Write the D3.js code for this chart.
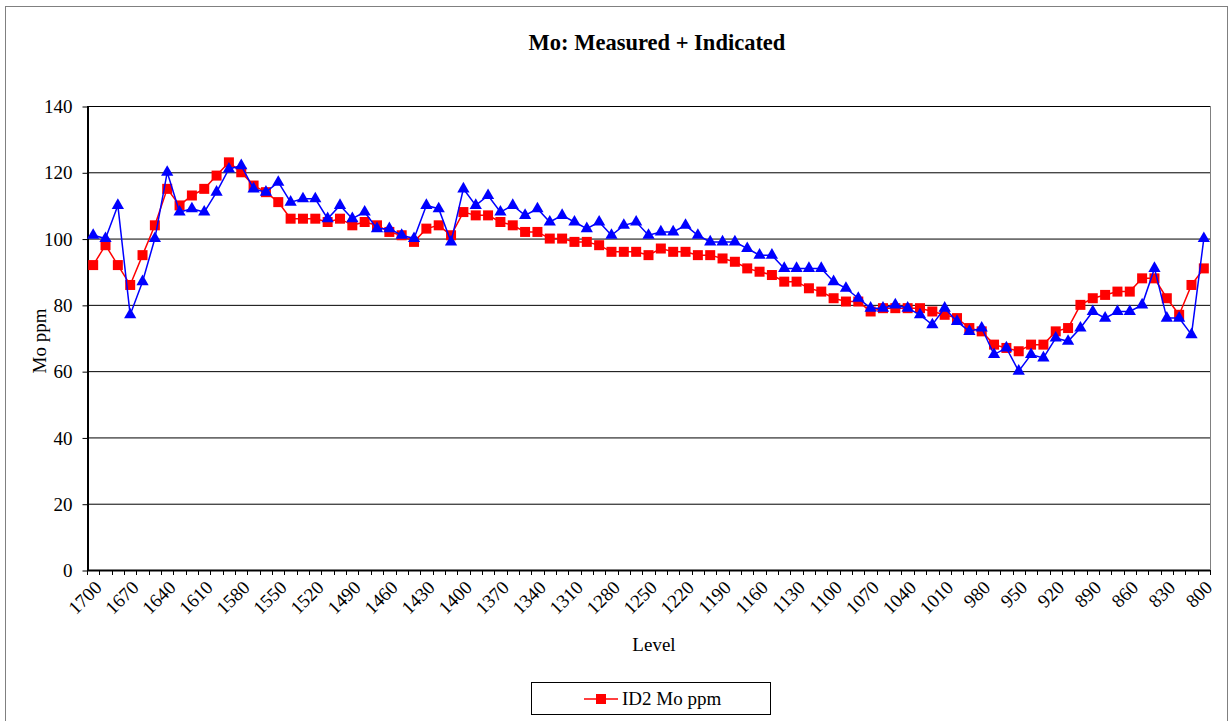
<!DOCTYPE html>
<meta charset="utf-8">
<style>
body { margin: 0; background: #fff; }
svg text { font-family: "Liberation Serif", "Times New Roman", Times, serif; }
.grid line { stroke: #000; stroke-width: 1px; }
.domain { stroke: #000; }
</style>
<body>
<script src="https://d3js.org/d3.v7.min.js"></script>
<script>

// levels from 1700 down to 800, every 10
var levels = [1700,1690,1680,1670,1660,1650,1640,1630,1620,1610,1600,1590,1580,1570,1560,1550,1540,1530,1520,1510,
  1500,1490,1480,1470,1460,1450,1440,1430,1420,1410,1400,1390,1380,1370,1360,1350,1340,1330,1320,1310,
  1300,1290,1280,1270,1260,1250,1240,1230,1220,1210,1200,1190,1180,1170,1160,1150,1140,1130,1120,1110,
  1100,1090,1080,1070,1060,1050,1040,1030,1020,1010,1000,990,980,970,960,950,940,930,920,910,
  900,890,880,870,860,850,840,830,820,810,800];

// ID2 Mo ppm (red squares)
var id2Mo = [92,98,92,86,95,104,115,110,113,115,119,123,120,116,114,111,106,106,106,105,
  106,104,105,104,102,101,99,103,104,101,108,107,107,105,104,102,102,100,100,99,
  99,98,96,96,96,95,97,96,96,95,95,94,93,91,90,89,87,87,85,84,
  82,81,81,78,79,79,79,79,78,77,76,73,72,68,67,66,68,68,72,73,
  80,82,83,84,84,88,88,82,77,86,91];

// second series (blue triangles, not in legend)
var blueMo = [101,100,110,77,87,100,120,108,109,108,114,121,122,115,114,117,111,112,112,106,
  110,106,108,103,103,101,100,110,109,99,115,110,113,108,110,107,109,105,107,105,
  103,105,101,104,105,101,102,102,104,101,99,99,99,97,95,95,91,91,91,91,
  87,85,82,79,79,80,79,77,74,79,75,72,73,65,67,60,65,64,70,69,
  73,78,76,78,78,80,91,76,76,71,100];

var yTicks = [0,20,40,60,80,100,120,140];
var xLabels = levels.filter(function(d, i) { return i % 3 === 0; });

var W = 1230, H = 721;
var plotLeft = 87, plotRight = 1210, plotTop = 106, plotBottom = 570;

var svg = d3.select("body").append("svg")
    .attr("width", W)
    .attr("height", H);

// outer chart border
svg.append("rect")
    .attr("x", 5.5).attr("y", 6.5)
    .attr("width", 1222).attr("height", 720)
    .attr("fill", "#fff")
    .attr("stroke", "#808080");

var x = d3.scaleBand().domain(levels).range([plotLeft, plotRight]).padding(0);
var y = d3.scaleLinear().domain([0, 140]).range([plotBottom, plotTop]);
var cx = function(i) { return x(levels[i]) + x.bandwidth() / 2; };

// gridlines
svg.append("g")
    .attr("class", "grid")
    .selectAll("line")
    .data(yTicks.filter(function(d) { return d > 0; }))
    .join("line")
    .attr("x1", plotLeft).attr("x2", plotRight)
    .attr("y1", function(d) { return y(d) + 0.5; })
    .attr("y2", function(d) { return y(d) + 0.5; });

// plot area right edge
svg.append("line")
    .attr("x1", plotRight + 0.5).attr("x2", plotRight + 0.5)
    .attr("y1", plotTop).attr("y2", plotBottom)
    .attr("stroke", "#808080");

// y axis
var yAxis = svg.append("g")
    .attr("transform", "translate(" + (plotLeft + 0.5) + ",0.5)")
    .call(d3.axisLeft(y).tickValues(yTicks).tickSize(5).tickSizeOuter(0).tickPadding(10));
yAxis.attr("font-family", null).attr("font-size", null);
yAxis.select(".domain").attr("stroke-width", 2);
yAxis.selectAll("text")
    .style("font-size", "19px")
    .attr("fill", "#000");

// x axis: ticks between categories, labels every third category
var xAxisG = svg.append("g");
xAxisG.append("line")
    .attr("x1", plotLeft).attr("x2", plotRight)
    .attr("y1", plotBottom + 0.5).attr("y2", plotBottom + 0.5)
    .attr("stroke", "#000").attr("stroke-width", 2);
var bounds = levels.map(function(d) { return x(d); }).concat([plotRight]);
xAxisG.selectAll(".xt")
    .data(bounds)
    .join("line")
    .attr("class", "xt")
    .attr("x1", function(d) { return Math.round(d) + 0.5; })
    .attr("x2", function(d) { return Math.round(d) + 0.5; })
    .attr("y1", plotBottom).attr("y2", plotBottom + 5)
    .attr("stroke", "#000");
xAxisG.selectAll(".xl")
    .data(xLabels)
    .join("text")
    .attr("class", "xl")
    .attr("transform", function(d) {
      return "translate(" + (x(d) + x.bandwidth() / 2 + 5) + "," + (plotBottom + 14) + ") rotate(-45)";
    })
    .attr("text-anchor", "end")
    .attr("dy", "0.35em")
    .style("font-size", "19px")
    .text(function(d) { return d; });

// axis titles
svg.append("text")
    .attr("x", 654).attr("y", 651)
    .attr("text-anchor", "middle")
    .style("font-size", "19px")
    .text("Level");
svg.append("text")
    .attr("transform", "translate(46," + ((plotTop + plotBottom) / 2 + 3) + ") rotate(-90)")
    .attr("text-anchor", "middle")
    .style("font-size", "19px")
    .text("Mo ppm");

// title
svg.append("text")
    .attr("x", 657).attr("y", 50)
    .attr("text-anchor", "middle")
    .style("font-size", "22.5px")
    .style("font-weight", "bold")
    .text("Mo: Measured + Indicated");

// lines
var line = function(vals) {
  return d3.line()
    .x(function(d, i) { return cx(i); })
    .y(function(d) { return y(d); })(vals);
};

svg.append("path")
    .attr("d", line(id2Mo))
    .attr("fill", "none").attr("stroke", "#ff0000").attr("stroke-width", 1.5);
svg.append("g").selectAll("rect")
    .data(id2Mo)
    .join("rect")
    .attr("x", function(d, i) { return cx(i) - 5; })
    .attr("y", function(d) { return y(d) - 5; })
    .attr("width", 10).attr("height", 10)
    .attr("fill", "#ff0000");

svg.append("path")
    .attr("d", line(blueMo))
    .attr("fill", "none").attr("stroke", "#0000ff").attr("stroke-width", 1.5);
var tri = d3.symbol().type(d3.symbolTriangle).size(65);
svg.append("g").selectAll("path")
    .data(blueMo)
    .join("path")
    .attr("transform", function(d, i) { return "translate(" + cx(i) + "," + y(d) + ")"; })
    .attr("d", tri)
    .attr("fill", "#0000ff");

// legend
var lg = svg.append("g");
lg.append("rect")
    .attr("x", 531.5).attr("y", 682.5)
    .attr("width", 239).attr("height", 32)
    .attr("fill", "#fff").attr("stroke", "#000");
lg.append("line")
    .attr("x1", 584).attr("x2", 618)
    .attr("y1", 699).attr("y2", 699)
    .attr("stroke", "#ff0000").attr("stroke-width", 1.5);
lg.append("rect")
    .attr("x", 596).attr("y", 694)
    .attr("width", 10).attr("height", 10)
    .attr("fill", "#ff0000");
lg.append("text")
    .attr("x", 622).attr("y", 705)
    .style("font-size", "19px")
    .text("ID2 Mo ppm");

</script>
</body>
